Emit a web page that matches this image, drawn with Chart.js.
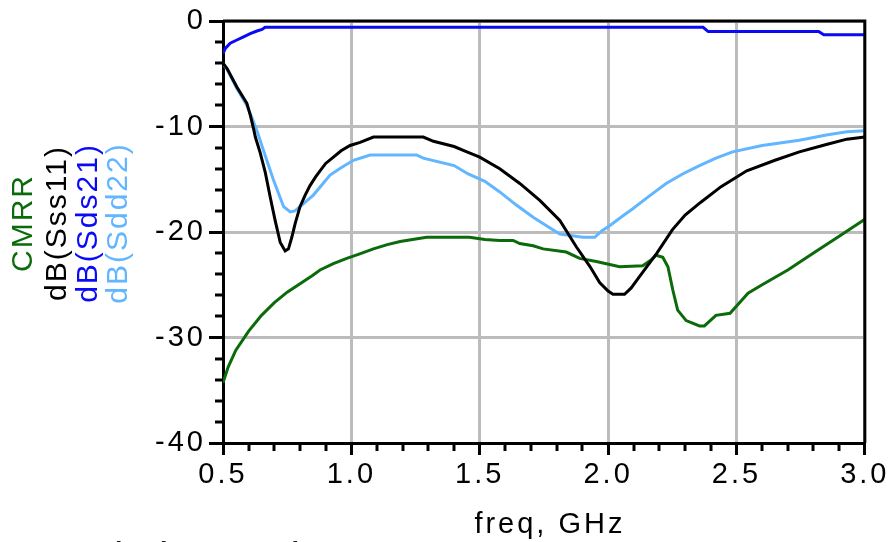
<!DOCTYPE html>
<html><head><meta charset="utf-8">
<script src="https://cdn.jsdelivr.net/npm/chart.js@4/dist/chart.umd.min.js"></script>
<style>html,body{margin:0;padding:0;background:#fff;}#wrap{width:888px;height:542px;position:relative;}</style>
</head><body><div id="wrap"><canvas id="c" width="888" height="542"></canvas></div>
<script>
const xTicks = [0.5, 1.0, 1.5, 2.0, 2.5, 3.0];
const yTicks = [0, -10, -20, -30, -40];
const seriesNames = ['dB(Sss11)', 'dB(Sds21)', 'CMRR', 'dB(Sdd22)'];
const xTitle = 'freq, GHz';
const caption = 'Actual Phase Balance';

const s11Freq = [0.5,0.516,0.554,0.593,0.606,0.619,0.626,0.645,0.665,0.684,0.703,0.723,0.742,0.755,0.768,0.781,0.8,0.82,0.839,0.86,0.878,0.9,0.93,0.96,0.995,1.034,1.086,1.28,1.32,1.40,1.45,1.5,1.578,1.656,1.734,1.812,1.876,1.93,1.967,2.0,2.019,2.064,2.09,2.12,2.19,2.25,2.3,2.36,2.44,2.54,2.65,2.745,2.85,2.93,3.0];
const s11Vals = [-4.0,-4.5,-6.25,-7.8,-8.9,-10.2,-11.0,-12.5,-14.4,-16.7,-18.9,-21.0,-21.8,-21.6,-20.5,-19.2,-17.6,-16.5,-15.6,-14.8,-14.2,-13.5,-12.9,-12.3,-11.8,-11.5,-11.0,-11.0,-11.4,-11.9,-12.4,-12.9,-14.0,-15.4,-17.0,-18.9,-21.4,-23.3,-24.8,-25.6,-25.9,-25.9,-25.3,-24.3,-22.0,-19.8,-18.4,-17.2,-15.7,-14.2,-13.2,-12.4,-11.7,-11.2,-11.0];

const sds21Freq = [0.5,0.509,0.528,0.554,0.58,0.606,0.632,0.652,0.664,2.37,2.39,2.82,2.84,3.0];
const sds21Vals = [-3.1,-2.6,-2.1,-1.8,-1.5,-1.2,-0.95,-0.8,-0.6,-0.6,-1.0,-1.0,-1.3,-1.3];

const cmrrFreq = [0.5,0.52,0.55,0.6,0.65,0.7,0.75,0.8,0.85,0.878,0.93,0.982,1.03,1.086,1.14,1.19,1.293,1.46,1.52,1.578,1.63,1.656,1.708,1.747,1.837,1.889,1.954,2.045,2.135,2.17,2.187,2.213,2.233,2.252,2.271,2.304,2.356,2.375,2.42,2.475,2.545,2.6,2.7,2.8,2.9,3.0];
const cmrrVals = [-34.3,-32.8,-31.2,-29.4,-27.9,-26.7,-25.7,-24.9,-24.1,-23.6,-23.0,-22.5,-22.1,-21.6,-21.2,-20.9,-20.5,-20.5,-20.7,-20.8,-20.8,-21.1,-21.3,-21.6,-21.9,-22.5,-22.8,-23.3,-23.2,-22.6,-22.2,-22.4,-23.3,-25.5,-27.4,-28.4,-28.9,-28.9,-27.9,-27.7,-25.8,-25.0,-23.6,-22.0,-20.4,-18.8];

const sdd22Freq = [0.5,0.516,0.554,0.593,0.613,0.635,0.658,0.697,0.736,0.762,0.78,0.8,0.852,0.917,0.96,1.008,1.073,1.254,1.28,1.40,1.455,1.52,1.578,1.64,1.708,1.76,1.812,1.902,1.948,1.975,2.006,2.05,2.096,2.16,2.226,2.29,2.356,2.42,2.485,2.6,2.745,2.85,2.93,3.0];
const sdd22Vals = [-4.0,-4.6,-6.4,-8.0,-9.2,-10.6,-12.3,-15.1,-17.6,-18.1,-18.0,-17.6,-16.5,-14.6,-13.9,-13.2,-12.7,-12.7,-13.0,-13.7,-14.5,-15.2,-16.2,-17.4,-18.6,-19.4,-20.2,-20.5,-20.5,-19.9,-19.4,-18.6,-17.8,-16.6,-15.4,-14.5,-13.7,-13.0,-12.4,-11.8,-11.3,-10.8,-10.5,-10.4];

const colors = {s11:'#000000', sds21:'#0a0af5', cmrr:'#0b6b0b', sdd22:'#62b6ff'};
const FONT = '"Liberation Sans", Arial, Helvetica, sans-serif';

function pts(fx, vy){ return fx.map((f,i)=>({x:f, y:vy[i]})); }

const extras = {
  id:'extras',
  beforeDraw(chart){ chart.ctx.letterSpacing = '3px'; },
  afterDraw(chart){
    const ctx = chart.ctx, xs = chart.scales.x, ys = chart.scales.y, a = chart.chartArea;
    ctx.save();
    ctx.strokeStyle = '#000'; ctx.lineWidth = 3;
    ctx.beginPath();
    ctx.moveTo(a.left, a.top); ctx.lineTo(a.right, a.top); ctx.lineTo(a.right, a.bottom);
    ctx.stroke();
    for (let k = 6; k < 30; k++) {
      if (k % 5 === 0) continue;
      const px = Math.round(xs.getPixelForValue(k/10));
      ctx.beginPath(); ctx.moveTo(px, a.bottom); ctx.lineTo(px, a.bottom + 8); ctx.stroke();
    }
    for (let v = -38; v < 0; v += 2) {
      if (v % 10 === 0) continue;
      const py = Math.round(ys.getPixelForValue(v));
      ctx.beginPath(); ctx.moveTo(a.left - 8, py); ctx.lineTo(a.left, py); ctx.stroke();
    }
    // x axis title
    ctx.letterSpacing = '3px';
    ctx.font = '29px ' + FONT;
    ctx.fillStyle = '#000';
    ctx.textAlign = 'center'; ctx.textBaseline = 'alphabetic';
    ctx.fillText(xTitle, (a.left + a.right) / 2 + 6, 533);
    // rotated legend
    const legendCols = [
      {t: seriesNames[2], c: colors.cmrr, x: 24},
      {t: seriesNames[0], c: colors.s11, x: 58},
      {t: seriesNames[1], c: colors.sds21, x: 89},
      {t: seriesNames[3], c: colors.sdd22, x: 119}
    ];
    ctx.letterSpacing = '2px';
    ctx.font = '30px ' + FONT;
    ctx.textAlign = 'center'; ctx.textBaseline = 'middle';
    legendCols.forEach(l => {
      ctx.save();
      ctx.translate(l.x, 223);
      ctx.rotate(-Math.PI/2);
      ctx.fillStyle = l.c;
      ctx.fillText(l.t, 0, 0);
      ctx.restore();
    });
    // cut-off caption at the bottom
    ctx.letterSpacing = '4px';
    ctx.font = 'bold 27px ' + FONT;
    ctx.fillStyle = '#222';
    ctx.textAlign = 'left'; ctx.textBaseline = 'alphabetic';
    ctx.fillText(caption, 20, 561);
    ctx.restore();
  }
};

new Chart(document.getElementById('c'), {
  type: 'line',
  data: {
    datasets: [
      {label: seriesNames[0], data: pts(s11Freq, s11Vals), borderColor: colors.s11},
      {label: seriesNames[1], data: pts(sds21Freq, sds21Vals), borderColor: colors.sds21},
      {label: seriesNames[2], data: pts(cmrrFreq, cmrrVals), borderColor: colors.cmrr},
      {label: seriesNames[3], data: pts(sdd22Freq, sdd22Vals), borderColor: colors.sdd22}
    ].map(d => Object.assign(d, {borderWidth: 3, pointRadius: 0, tension: 0, fill: false}))
  },
  options: {
    responsive: false, animation: false,
    layout: {padding: {top: 21, right: 23, left: 0, bottom: 0}},
    plugins: {legend: {display: false}, tooltip: {enabled: false}},
    scales: {
      x: {
        type: 'linear', min: 0.5, max: 3.0,
        afterBuildTicks: s => { s.ticks = xTicks.map(v => ({value: v})); },
        ticks: {callback: v => Number(v).toFixed(1), color: '#000', font: {family: FONT, size: 29}, padding: 3, maxRotation: 0},
        grid: {color: '#bcbcbc', lineWidth: 3, tickColor: '#000', tickLength: 12, tickWidth: 3},
        border: {color: '#000', width: 3},
        afterFit: s => { s.height = 99; }
      },
      y: {
        type: 'linear', min: -40, max: 0,
        afterBuildTicks: s => { s.ticks = yTicks.map(v => ({value: v})); },
        ticks: {callback: v => String(v), color: '#000', font: {family: FONT, size: 29}, padding: 3},
        grid: {color: '#bcbcbc', lineWidth: 3, tickColor: '#000', tickLength: 14, tickWidth: 3},
        border: {color: '#000', width: 3},
        afterFit: s => { s.width = 223; }
      }
    }
  },
  plugins: [extras]
});
</script>
</body></html>
